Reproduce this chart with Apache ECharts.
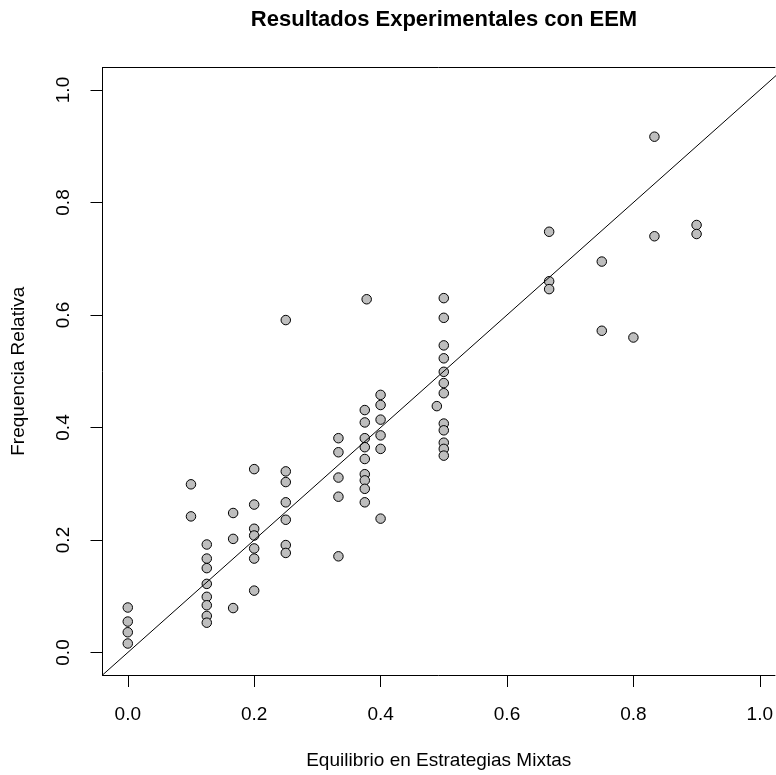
<!DOCTYPE html>
<html>
<head>
<meta charset="utf-8">
<script src="https://cdn.jsdelivr.net/npm/echarts@6/dist/echarts.min.js"></script>
<style>html,body{margin:0;padding:0;background:#fff}#c{width:776px;height:775px}</style>
</head>
<body>
<div id="c"></div>
<script>
var xValues = [
  0, 0, 0, 0,
  0.1, 0.1,
  0.125, 0.125, 0.125, 0.125, 0.125, 0.125, 0.125, 0.125,
  0.1667, 0.1667, 0.1667,
  0.2, 0.2, 0.2, 0.2, 0.2, 0.2, 0.2,
  0.25, 0.25, 0.25, 0.25, 0.25, 0.25, 0.25,
  0.3333, 0.3333, 0.3333, 0.3333, 0.3333,
  0.375, 0.375, 0.375, 0.375, 0.375, 0.375, 0.375, 0.375, 0.375, 0.378,
  0.4, 0.4, 0.4, 0.4, 0.4, 0.4,
  0.489,
  0.5, 0.5, 0.5, 0.5, 0.5, 0.5, 0.5, 0.5, 0.5, 0.5, 0.5, 0.5,
  0.6667, 0.6667, 0.6667,
  0.75, 0.75,
  0.8,
  0.8333, 0.8333,
  0.9, 0.9
];
var yValues = [
  0.080, 0.055, 0.036, 0.016,
  0.299, 0.242,
  0.192, 0.167, 0.150, 0.122, 0.099, 0.084, 0.065, 0.053,
  0.248, 0.202, 0.079,
  0.326, 0.263, 0.220, 0.208, 0.185, 0.167, 0.110,
  0.591, 0.322, 0.303, 0.267, 0.236, 0.191, 0.177,
  0.381, 0.356, 0.311, 0.277, 0.171,
  0.431, 0.409, 0.381, 0.365, 0.344, 0.317, 0.306, 0.291, 0.267, 0.628,
  0.458, 0.440, 0.414, 0.386, 0.362, 0.238,
  0.438,
  0.630, 0.595, 0.546, 0.523, 0.499, 0.479, 0.461, 0.407, 0.395, 0.373, 0.362, 0.350,
  0.748, 0.660, 0.646,
  0.695, 0.572,
  0.560,
  0.917, 0.740,
  0.760, 0.744
];
var refLineX = [-0.04, 1.04];
var refLineY = [-0.04, 1.04];
var tickValues = [0, 0.2, 0.4, 0.6, 0.8, 1.0];
var tickLabels = ['0.0', '0.2', '0.4', '0.6', '0.8', '1.0'];

var points = xValues.map(function (x, i) { return [x, yValues[i]]; });
var refLine = refLineX.map(function (x, i) { return [x, refLineY[i]]; });
function fmt(v) {
  for (var i = 0; i < tickValues.length; i++) {
    if (Math.abs(v - tickValues[i]) < 1e-9) return tickLabels[i];
  }
  return '';
}
var FONT = 'Liberation Sans, Arial, Helvetica, sans-serif';
var X_MIN = -0.04, X_MAX = 1.024;

var chart = echarts.init(document.getElementById('c'), null, {renderer: 'canvas'});
chart.setOption({
  animation: false,
  backgroundColor: '#fff',
  title: {
    text: 'Resultados Experimentales con EEM',
    left: 444, top: 9, textAlign: 'center', padding: 0,
    textStyle: {fontFamily: FONT, fontSize: 22, fontWeight: 'bold', color: '#000'}
  },
  grid: {
    left: 102.5, top: 67.5, right: 0, height: 611.5, show: false
  },
  xAxis: [{
    type: 'value', min: X_MIN, max: X_MAX, position: 'bottom',
    name: 'Equilibrio en Estrategias Mixtas', nameLocation: 'middle', nameGap: 76,
    nameTextStyle: {fontFamily: FONT, fontSize: 19, color: '#000'},
    axisLine: {show: true, onZero: false, lineStyle: {color: '#000', width: 1}},
    axisTick: {show: true, length: 12, customValues: tickValues, lineStyle: {color: '#000', width: 1}},
    axisLabel: {customValues: tickValues, formatter: fmt, margin: 30,
      fontFamily: FONT, fontSize: 19, color: '#000'},
    splitLine: {show: false}
  }, {
    type: 'value', min: X_MIN, max: X_MAX, position: 'top',
    axisLine: {show: true, onZero: false, lineStyle: {color: '#000', width: 1}},
    axisTick: {show: false}, axisLabel: {show: false}, splitLine: {show: false}
  }],
  yAxis: {
    type: 'value', min: -0.04, max: 1.04,
    name: 'Frequencia Relativa', nameLocation: 'middle', nameGap: 74,
    nameTextStyle: {fontFamily: FONT, fontSize: 19, color: '#000'},
    axisLine: {show: true, onZero: false, lineStyle: {color: '#000', width: 1}},
    axisTick: {show: true, length: 12, customValues: tickValues, lineStyle: {color: '#000', width: 1}},
    axisLabel: {customValues: tickValues, formatter: fmt, margin: 29, rotate: 90,
      fontFamily: FONT, fontSize: 19, color: '#000'},
    splitLine: {show: false}
  },
  series: [
    {
      type: 'scatter', data: points, symbol: 'circle', symbolSize: 9.5, z: 2,
      xAxisIndex: 0,
      itemStyle: {color: '#BEBEBE', borderColor: '#000', borderWidth: 1, opacity: 1}
    },
    {
      type: 'line', data: refLine, symbol: 'none', z: 3, clip: true, xAxisIndex: 0,
      lineStyle: {color: '#000', width: 1}
    }
  ]
});
</script>
</body>
</html>
